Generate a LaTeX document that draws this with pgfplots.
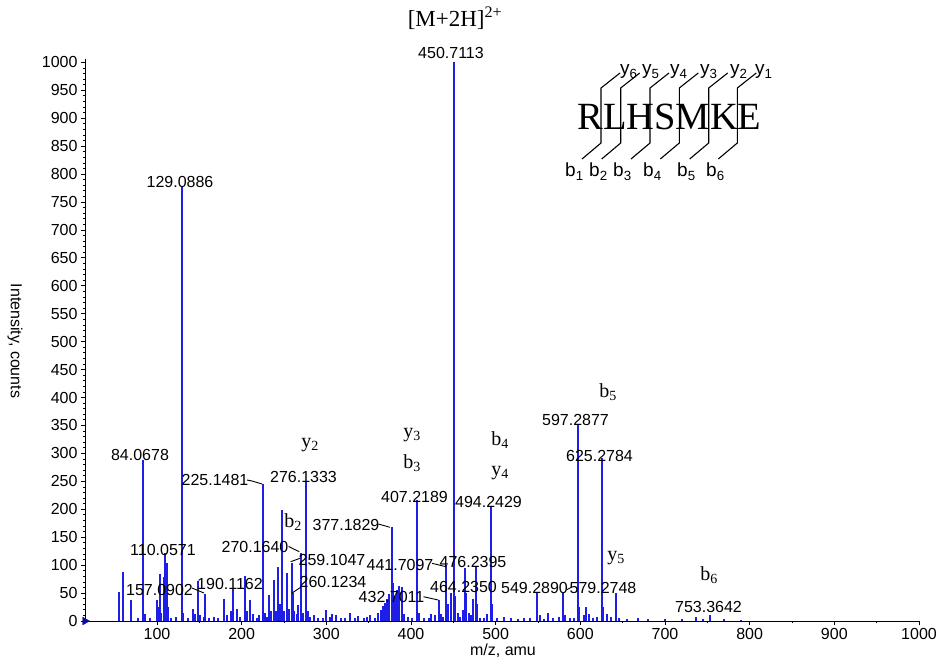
\documentclass[border=0pt]{standalone}
\usepackage{fontspec}
\setmainfont{Liberation Sans}
\newfontfamily\serif{Liberation Serif}
\usepackage{pgfplots}
\pgfplotsset{compat=1.18}
\definecolor{peak}{RGB}{30,30,230}
\definecolor{tri}{RGB}{10,10,160}
\newcommand{\numf}{\fontsize{16}{19}\selectfont}
\newcommand{\ionf}{\serif\fontsize{20}{24}\selectfont}
\newcommand{\fragf}{\fontsize{19}{22}\selectfont}
\begin{document}
\begin{tikzpicture}
\path[use as bounding box] (-85pt,-44pt) rectangle (851pt,621pt);
\begin{axis}[
  at={(0pt,0pt)}, anchor=south west,
  scale only axis, width=834pt, height=562pt,
  xmin=15, xmax=1000, ymin=0, ymax=1006,
  axis x line=bottom, axis y line=left,
  axis line style={-, line width=0.9pt},
  xtick={100,200,...,1000}, minor x tick num=1,
  ytick={0,50,...,1000}, minor y tick num=4,
  tick align=outside, major tick length=4pt, minor tick length=2pt,
  tick style={black, line width=0.8pt},
  ticklabel style={font=\numf},
  /pgf/number format/assume math mode=true,
  /pgf/number format/1000 sep={},
  clip=false,
]
\addplot[ycomb, draw=peak, line width=2pt] coordinates {
(55,52) (60,88) (69.5,38) (78,6) (84.0678,289) (86,12) (92,5)
(100,38) (101.5,25) (103,85) (105,15) (108,78) (110.0571,121) (111.5,104) (113,25) (117,6) (122,8)
(129.0886,778) (131,15) (137,6) (143,22) (145,12) (148,72) (151,10) (155,8) (157.0902,48) (162,5) (167,8) (172,6)
(179,40) (183,10) (187,18) (190.1162,59) (194,22) (198,8) (204,80) (206.5,18) (210,37) (213,12) (218,6) (221,10)
(225.1481,245) (227,14) (230,8) (232.5,46) (235,18) (238,73) (240.5,18) (243,97) (245,30) (247.5,199) (250,18)
(253,86) (256,22) (259.1047,104) (260.1234,50) (262,18) (265,12) (267,28) (270.1640,122) (272,14) (276.1333,251)
(278,18) (281,8) (286,10) (290,6) (296,5) (300,20) (304,8) (307,12) (311,10) (317,6) (322,5) (328,14) (334,6)
(338,9) (344,5) (348,8) (352,11) (357,6) (361,15) (364,20) (367,26) (369.5,32) (372,40) (374,48)
(377.1829,168) (378.6,68) (381,45) (383,55) (386.4,62) (389.6,60) (392,12) (396,8) (401,5)
(407.2189,216) (409,15) (415,6) (421,5) (424,12) (428,10) (432.7011,37) (435,12) (438,8)
(441.7097,100) (443.5,30) (447,50) (450.7113,1000) (451.21,270) (452.5,45) (455,15) (458,8) (461,20)
(464.2350,95) (465.5,50) (468,15) (471,10) (473,40) (476.2395,97) (477.5,30) (481,6) (486,5) (490,12)
(494.2429,206) (496,30) (502,5) (510,8) (518,5) (526,4) (534,6) (541,5) (549.2890,50) (552,10) (557,4)
(562,15) (568,5) (575,8) (579.2748,50) (582,10) (588,5) (593,6) (597.2877,351) (599,25) (604,10) (607,25)
(610,12) (615,5) (620,8) (625.2784,292) (627,25) (632,12) (636,8) (642.3,50) (646,6) (655,4) (668,5)
(680,4) (700,3) (720,4) (736.4,7) (745,3) (753.3642,10) (770,3) (790,2)
};
\addplot[only marks, mark=triangle*, mark size=4.5pt, color=tri, mark options={rotate=-90}] coordinates {(15,0)};
\end{axis}
\begin{scope}[x=1pt, y=-1pt, shift={(-85pt,621pt)}]
% axis labels
\node[font=\numf, rotate=-90] at (15,341) {Intensity, counts};
\node[font=\numf] at (503,651) {m/z, amu};
% title
\node[font=\serif\fontsize{23}{27}\selectfont, inner sep=0pt] at (455,18) {[M+2H]\textsuperscript{2+}};
% peak labels
\begin{scope}[every node/.style={font=\numf, inner sep=0pt}]
\node at (451,53) {450.7113};
\node at (180,182) {129.0886};
\node at (140,455) {84.0678};
\node at (163,550) {110.0571};
\node at (159.5,590) {157.0902};
\node at (230,584) {190.1162};
\node at (215,480) {225.1481};
\node at (303.5,477) {276.1333};
\node at (255,547) {270.1640};
\node at (332,560) {259.1047};
\node at (333,582) {260.1234};
\node at (346,525) {377.1829};
\node at (414.5,497) {407.2189};
\node at (400,565) {441.7097};
\node at (473,562) {476.2395};
\node at (391.5,597) {432.7011};
\node at (463.5,587) {464.2350};
\node at (488.5,502) {494.2429};
\node at (534.5,588) {549.2890};
\node at (603,588) {579.2748};
\node at (575.5,420) {597.2877};
\node at (599.5,456) {625.2784};
\node at (708.5,607) {753.3642};
\end{scope}
% leader lines
\begin{scope}[line width=0.9pt]
\draw (192,588) -- (204,593);
\draw (247,480) -- (252,481) -- (262,484);
\draw (288.5,546.5) -- (299.3,551.7);
\draw (290.7,561.7) -- (300,558.3);
\draw (291.7,593.3) -- (300.7,587.3);
\draw (378.5,524) -- (390,527.3);
\draw (432,563.3) -- (446,566.7);
\draw (423.5,596.7) -- (438.3,600);
\draw (567,589.5) -- (571,587.5);
\end{scope}
% ion labels
\begin{scope}[every node/.style={font=\ionf, inner sep=0pt}]
\node at (310,445) {y\textsubscript{2}};
\node at (293,522) {b\textsubscript{2}};
\node at (412,435) {y\textsubscript{3}};
\node at (412,463) {b\textsubscript{3}};
\node at (500,440) {b\textsubscript{4}};
\node at (500,473) {y\textsubscript{4}};
\node at (608,392) {b\textsubscript{5}};
\node at (616,558) {y\textsubscript{5}};
\node at (709,575) {b\textsubscript{6}};
\end{scope}
% peptide diagram
\node[font=\serif\fontsize{38.5}{44}\selectfont, inner sep=0pt] at (669.5,117.3) {RLHSMKE};
\foreach \xx in {601,620.7,650,679.3,708.7,737.3}{
  \draw[line width=1.1pt] (\xx+19,73) -- (\xx,88) -- (\xx,143) -- (\xx-19,159);
}
\begin{scope}[every node/.style={font=\fragf, inner sep=0pt, anchor=base west}]
\node at (620,75) {y\textsubscript{6}};
\node at (642,75) {y\textsubscript{5}};
\node at (670,75) {y\textsubscript{4}};
\node at (700,75) {y\textsubscript{3}};
\node at (730,75) {y\textsubscript{2}};
\node at (755,75) {y\textsubscript{1}};
\node at (565,177) {b\textsubscript{1}};
\node at (589,177) {b\textsubscript{2}};
\node at (613,177) {b\textsubscript{3}};
\node at (643,177) {b\textsubscript{4}};
\node at (677,177) {b\textsubscript{5}};
\node at (706,177) {b\textsubscript{6}};
\end{scope}
\end{scope}
\end{tikzpicture}
\end{document}
